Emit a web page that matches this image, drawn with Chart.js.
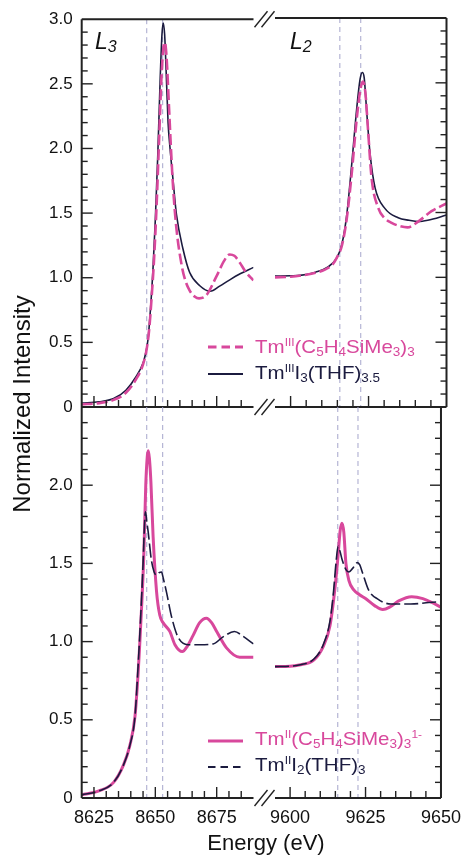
<!DOCTYPE html>
<html>
<head>
<meta charset="utf-8">
<title>Tm L3/L2 XANES</title>
<script src="https://cdn.jsdelivr.net/npm/chart.js@4.4.1/dist/chart.umd.min.js"></script>
<style>
  html, body { margin: 0; padding: 0; background: #fff; }
  #fig { position: relative; width: 470px; height: 858px; overflow: hidden;
         font-family: "Liberation Sans", Arial, Helvetica, sans-serif; color: #111; }
  #fig canvas { position: absolute; left: 0; top: 0; }
  .txt { position: absolute; white-space: nowrap; z-index: 5; }
  .edge { font-size: 23px; line-height: 23px; font-style: italic; }
  .edge .s { font-size: 16px; vertical-align: -3px; line-height: 0; }
  .leg { font-size: 19px; line-height: 18px; left: 255px; transform: scaleX(1.08); transform-origin: 0 50%; }
  .leg .sup { font-size: 11px; vertical-align: 7px; line-height: 0; }
  .leg .sub { font-size: 12.5px; vertical-align: -3px; line-height: 0; }
  .pink { color: #d8489c; }
  .navy { color: #1b1b3f; }
  #ytitle { left: -128px; top: 389px; width: 300px; height: 30px; line-height: 30px;
            font-size: 24px; text-align: center; transform: rotate(-90deg); }
  #xtitle { left: 166px; top: 830px; width: 200px; line-height: 26px; font-size: 22px; text-align: center; }
  #legsvg { position: absolute; left: 0; top: 0; z-index: 4; }
</style>
</head>
<body>
<div id="fig">
  <canvas id="cTL" width="470" height="858"></canvas>
  <canvas id="cTR" width="470" height="858"></canvas>
  <canvas id="cBL" width="470" height="858"></canvas>
  <canvas id="cBR" width="470" height="858"></canvas>

  <div class="txt edge" style="left:95px; top:30px;">L<span class="s">3</span></div>
  <div class="txt edge" style="left:290px; top:30px;">L<span class="s">2</span></div>

  <svg id="legsvg" width="470" height="858">
    <line x1="208" y1="347" x2="243" y2="347" stroke="#d8489c" stroke-width="3" stroke-dasharray="8.5 5"/>
    <line x1="208" y1="374" x2="243" y2="374" stroke="#1b1b3f" stroke-width="2"/>
    <line x1="208" y1="741" x2="243" y2="741" stroke="#d8489c" stroke-width="3"/>
    <line x1="208" y1="767" x2="243" y2="767" stroke="#1b1b3f" stroke-width="2" stroke-dasharray="7.5 5"/>
  </svg>
  <div class="txt leg pink" style="top:338px;">Tm<span class="sup">III</span>(C<span class="sub">5</span>H<span class="sub">4</span>SiMe<span class="sub">3</span>)<span class="sub">3</span></div>
  <div class="txt leg navy" style="top:364px;">Tm<span class="sup">III</span>I<span class="sub">3</span>(THF)<span class="sub">3.5</span></div>
  <div class="txt leg pink" style="top:730px;">Tm<span class="sup">II</span>(C<span class="sub">5</span>H<span class="sub">4</span>SiMe<span class="sub">3</span>)<span class="sub">3</span><span class="sup">1-</span></div>
  <div class="txt leg navy" style="top:756px;">Tm<span class="sup">II</span>I<span class="sub">2</span>(THF)<span class="sub">3</span></div>

  <div class="txt" id="ytitle">Normalized Intensity</div>
  <div class="txt" id="xtitle">Energy (eV)</div>
</div>

<script>
// ---- data ----
// L3 edge, Tm(III) pair (top)
const eL3_TmCp3 = [8620, 8627, 8633, 8638, 8642, 8645, 8646.5, 8647.5, 8648.5, 8649.5, 8650.5, 8651.5, 8652.5, 8653.3, 8653.9, 8654.6, 8655.5, 8656.5, 8657.3, 8658.6, 8660.7, 8662.2, 8664, 8666, 8667.8, 8670.8, 8674.9, 8678, 8680.3, 8682.2, 8684.3, 8687, 8690];
const iL3_TmCp3 = [0.02, 0.03, 0.055, 0.11, 0.21, 0.33, 0.45, 0.6, 0.85, 1.15, 1.55, 2.05, 2.55, 2.78, 2.82, 2.70, 2.35, 1.95, 1.68, 1.38, 1.10, 0.98, 0.90, 0.855, 0.84, 0.865, 1.01, 1.13, 1.18, 1.17, 1.12, 1.04, 0.98];
const eL3_TmI3 = [8620, 8627, 8633, 8638, 8642, 8645, 8646, 8647, 8648, 8649, 8650, 8651, 8652, 8652.7, 8653.2, 8653.8, 8654.5, 8655.2, 8656, 8657.2, 8658.6, 8661.3, 8664, 8668, 8672.4, 8676.2, 8680, 8684, 8690];
const iL3_TmI3 = [0.03, 0.04, 0.065, 0.13, 0.23, 0.34, 0.41, 0.52, 0.75, 1.05, 1.45, 1.95, 2.55, 2.88, 2.97, 2.88, 2.55, 2.2, 2.0, 1.76, 1.49, 1.22, 1.04, 0.94, 0.895, 0.935, 0.98, 1.025, 1.08];

// L2 edge, Tm(III) pair (top)
const eL2_TmCp3 = [9595, 9600, 9605, 9608, 9611, 9613.5, 9615, 9616.4, 9618, 9619.6, 9621.2, 9622.4, 9623.2, 9624, 9624.8, 9626, 9628.2, 9630, 9632.4, 9635, 9637.5, 9640.9, 9645.2, 9650];
const iL2_TmCp3 = [1.0, 1.005, 1.02, 1.035, 1.06, 1.10, 1.16, 1.24, 1.45, 1.80, 2.22, 2.45, 2.51, 2.42, 2.15, 1.76, 1.53, 1.46, 1.42, 1.395, 1.385, 1.43, 1.51, 1.57];
const eL2_TmI3 = [9595, 9600, 9603, 9608, 9612, 9614.8, 9616.4, 9618, 9619.6, 9621.2, 9622.3, 9623, 9623.6, 9624.4, 9625.5, 9627.1, 9630.3, 9634.5, 9638, 9641, 9644, 9650];
const iL2_TmI3 = [1.01, 1.012, 1.015, 1.04, 1.08, 1.15, 1.25, 1.48, 1.87, 2.30, 2.53, 2.58, 2.54, 2.28, 1.95, 1.69, 1.53, 1.46, 1.44, 1.43, 1.44, 1.48];

// L3 edge, Tm(II) pair (bottom)
const eL3_TmIICp3 = [8620, 8627, 8633, 8637, 8639.6, 8641.7, 8643, 8643.7, 8644.5, 8645.3, 8646.1, 8646.7, 8647.1, 8647.6, 8648.2, 8649.1, 8650.5, 8651.8, 8653.2, 8655.9, 8658, 8661, 8663, 8665.4, 8668, 8670.8, 8673, 8675, 8679, 8684.4, 8690];
const iL3_TmIICp3 = [0.02, 0.045, 0.10, 0.21, 0.335, 0.52, 0.80, 1.0, 1.25, 1.55, 2.0, 2.18, 2.22, 2.17, 2.02, 1.67, 1.32, 1.17, 1.12, 1.065, 0.98, 0.936, 0.97, 1.04, 1.12, 1.15, 1.12, 1.065, 0.96, 0.90, 0.90];
const eL3_TmIII2 = [8620, 8627, 8633, 8637, 8639.6, 8641.7, 8643, 8644, 8645, 8645.6, 8646.0, 8646.5, 8647.1, 8648.4, 8649.5, 8650.5, 8651.5, 8652.5, 8653.3, 8654.5, 8656.6, 8659.2, 8663.3, 8668, 8673.5, 8677.6, 8682.2, 8685.7, 8690];
const iL3_TmIII2 = [0.02, 0.045, 0.10, 0.21, 0.335, 0.52, 0.85, 1.15, 1.5, 1.75, 1.83, 1.77, 1.70, 1.52, 1.445, 1.425, 1.44, 1.445, 1.40, 1.32, 1.16, 1.03, 0.98, 0.98, 0.985, 1.03, 1.065, 1.035, 0.985];

// L2 edge, Tm(II) pair (bottom)
const eL2_TmIICp3 = [9595, 9600, 9603, 9608, 9611, 9613.2, 9614.8, 9615.9, 9616.6, 9617.2, 9617.8, 9618.5, 9619.5, 9621.1, 9623, 9625, 9628, 9630.7, 9633, 9636, 9640.3, 9644, 9647, 9650];
const iL2_TmIICp3 = [0.84, 0.842, 0.85, 0.885, 0.97, 1.10, 1.33, 1.55, 1.71, 1.757, 1.70, 1.50, 1.39, 1.33, 1.30, 1.275, 1.23, 1.205, 1.22, 1.26, 1.287, 1.275, 1.25, 1.22];
const eL2_TmIII2 = [9595, 9600, 9603, 9608, 9611, 9613.2, 9614.3, 9615.2, 9615.9, 9616.5, 9617.3, 9618.5, 9619.5, 9620.8, 9622.3, 9623.1, 9624, 9626, 9629.2, 9633.4, 9640, 9646, 9650];
const iL2_TmIII2 = [0.84, 0.843, 0.85, 0.89, 0.98, 1.13, 1.30, 1.50, 1.61, 1.58, 1.52, 1.46, 1.445, 1.47, 1.505, 1.49, 1.44, 1.33, 1.27, 1.24, 1.24, 1.25, 1.255];

// dashed guide energies
const refL3 = [8646.5, 8653.0];
const refL2 = [9615.8, 9622.5];

// tick labels
const xLabelsL3 = [8625, 8650, 8675];
const xLabelsL2 = [9600, 9625, 9650];
const yLabelsTop = [0, 0.5, 1.0, 1.5, 2.0, 2.5, 3.0];
const yLabelsBottom = [0, 0.5, 1.0, 1.5, 2.0];

const FONT = '"Liberation Sans", Arial, Helvetica, sans-serif';
const PINK = '#d8489c';
const NAVY = '#1b1b3f';
const AXIS = '#222222';
const REF = '#a6a6cc';
const Y_AXIS_W = 45;   // room kept for the y tick labels
const X_AXIS_H = 40;   // room kept for the x tick labels

function pts(e, v) {
    return e.map((x, i) => ({ x: x, y: v[i] }));
}

// frame, inward ticks, broken-axis marks, dashed guides
const framePlugin = {
    id: 'frame',
    beforeDatasetsDraw(chart, args, o) {
        const { ctx, chartArea: a } = chart;
        const x = chart.scales.x;
        ctx.save();
        ctx.strokeStyle = REF;
        ctx.lineWidth = 1;
        ctx.setLineDash([5, 4]);
        (o.refs || []).forEach(v => {
            const px = x.getPixelForValue(v);
            ctx.beginPath();
            ctx.moveTo(px, a.top);
            ctx.lineTo(px, a.bottom);
            ctx.stroke();
        });
        ctx.restore();
    },
    afterDraw(chart, args, o) {
        const { ctx, chartArea: a } = chart;
        const x = chart.scales.x, y = chart.scales.y;
        ctx.save();
        ctx.strokeStyle = AXIS;
        ctx.lineCap = 'butt';

        // x ticks on the bottom edge, pointing up
        ctx.lineWidth = 1.4;
        for (let v = Math.ceil(x.min / 5) * 5; v < x.max; v += 5) {
            if (v <= x.min) continue;
            const px = x.getPixelForValue(v);
            const len = v % 25 === 0 ? 11 : 7;
            ctx.beginPath();
            ctx.moveTo(px, a.bottom);
            ctx.lineTo(px, a.bottom - len);
            ctx.stroke();
        }
        // y ticks, pointing inward
        const n = Math.round(y.max / 0.1);
        for (let k = 1; k < n; k++) {
            const py = y.getPixelForValue(k * 0.1);
            const len = k % 5 === 0 ? 11 : 6;
            ctx.beginPath();
            if (o.side === 'left') {
                ctx.moveTo(a.left, py);
                ctx.lineTo(a.left + len, py);
            } else {
                ctx.moveTo(a.right, py);
                ctx.lineTo(a.right - len, py);
            }
            ctx.stroke();
        }

        // frame lines
        ctx.lineWidth = 2;
        ctx.beginPath();
        if (o.top) { ctx.moveTo(a.left, a.top); ctx.lineTo(a.right, a.top); }
        ctx.moveTo(a.left, a.bottom); ctx.lineTo(a.right, a.bottom);
        if (o.side === 'left') { ctx.moveTo(a.left, a.top); ctx.lineTo(a.left, a.bottom); }
        else { ctx.moveTo(a.right, a.top); ctx.lineTo(a.right, a.bottom); }
        ctx.stroke();

        // axis break marks "//"
        ctx.lineWidth = 1.4;
        (o.breaks || []).forEach(edge => {
            const yy = edge === 'top' ? a.top : a.bottom;
            [1, 8].forEach(dx => {
                ctx.beginPath();
                ctx.moveTo(a.right + dx, yy + 8);
                ctx.lineTo(a.right + dx + 13, yy - 8);
                ctx.stroke();
            });
        });
        ctx.restore();
    }
};

function panel(id, o) {
    // shrink the padding by the room the labelled axes take
    const pad = Object.assign({}, o.pad);
    if (o.yLabels) pad.left -= Y_AXIS_W;
    if (o.xLabels) pad.bottom -= X_AXIS_H;
    return new Chart(document.getElementById(id), {
        type: 'line',
        data: { datasets: o.datasets },
        options: {
            responsive: false,
            animation: false,
            events: [],
            layout: { padding: pad },
            plugins: {
                legend: { display: false },
                tooltip: { enabled: false },
                frame: o.frame
            },
            elements: {
                point: { radius: 0 },
                line: { cubicInterpolationMode: 'monotone', borderCapStyle: 'butt' }
            },
            scales: {
                x: {
                    type: 'linear',
                    min: o.xMin,
                    max: o.xMax,
                    display: !!o.xLabels,
                    grid: { display: false, drawTicks: false },
                    border: { display: false },
                    ticks: {
                        autoSkip: false,
                        maxRotation: 0,
                        padding: 9,
                        color: '#111',
                        font: { family: FONT, size: 18 },
                        callback: v => String(v)
                    },
                    afterBuildTicks: s => { if (o.xLabels) s.ticks = o.xLabels.map(v => ({ value: v })); },
                    afterFit: s => { s.height = o.xLabels ? X_AXIS_H : 0; }
                },
                y: {
                    type: 'linear',
                    position: 'left',
                    min: 0,
                    max: o.yMax,
                    display: !!o.yLabels,
                    grid: { display: false, drawTicks: false },
                    border: { display: false },
                    ticks: {
                        padding: 9,
                        color: '#111',
                        font: { family: FONT, size: 17 },
                        callback: v => (v === 0 ? '0' : v.toFixed(1))
                    },
                    afterBuildTicks: s => { if (o.yLabels) s.ticks = o.yLabels.map(v => ({ value: v })); },
                    afterFit: s => { s.width = o.yLabels ? Y_AXIS_W : 0; }
                }
            }
        },
        plugins: [framePlugin]
    });
}

// panel rectangles (left col 81.7-253.5, right col 275-446.5; rows 18-407, 407-798)
const padTL = { left: 81.7, right: 216.5, top: 18, bottom: 451 };
const padTR = { left: 275, right: 23.5, top: 18, bottom: 451 };
const padBL = { left: 81.7, right: 216.5, top: 407, bottom: 60 };
const padBR = { left: 275, right: 23.5, top: 407, bottom: 60 };

const pinkDashed = { borderColor: PINK, borderWidth: 2.6, borderDash: [11, 4] };
const navySolid = { borderColor: NAVY, borderWidth: 1.6 };
const pinkSolid = { borderColor: PINK, borderWidth: 3 };
const navyDashed = { borderColor: NAVY, borderWidth: 1.6, borderDash: [14, 4] };

panel('cTL', {
    pad: padTL, xMin: 8620, xMax: 8690, yMax: 3, yLabels: yLabelsTop,
    frame: { side: 'left', top: true, refs: refL3, breaks: ['top', 'bottom'] },
    datasets: [
        Object.assign({ label: 'TmIII(C5H4SiMe3)3', data: pts(eL3_TmCp3, iL3_TmCp3) }, pinkDashed),
        Object.assign({ label: 'TmIIII3(THF)3.5', data: pts(eL3_TmI3, iL3_TmI3) }, navySolid)
    ]
});
panel('cTR', {
    pad: padTR, xMin: 9595, xMax: 9650, yMax: 3,
    frame: { side: 'right', top: true, refs: refL2 },
    datasets: [
        Object.assign({ label: 'TmIII(C5H4SiMe3)3', data: pts(eL2_TmCp3, iL2_TmCp3) }, pinkDashed),
        Object.assign({ label: 'TmIIII3(THF)3.5', data: pts(eL2_TmI3, iL2_TmI3) }, navySolid)
    ]
});
panel('cBL', {
    pad: padBL, xMin: 8620, xMax: 8690, yMax: 2.5, yLabels: yLabelsBottom, xLabels: xLabelsL3,
    frame: { side: 'left', top: false, refs: refL3, breaks: ['bottom'] },
    datasets: [
        Object.assign({ label: 'TmIII2(THF)3', data: pts(eL3_TmIII2, iL3_TmIII2) }, navyDashed),
        Object.assign({ label: 'TmII(C5H4SiMe3)3 1-', data: pts(eL3_TmIICp3, iL3_TmIICp3) }, pinkSolid)
    ]
});
panel('cBR', {
    pad: padBR, xMin: 9595, xMax: 9650, yMax: 2.5, xLabels: xLabelsL2,
    frame: { side: 'right', top: false, refs: refL2 },
    datasets: [
        Object.assign({ label: 'TmIII2(THF)3', data: pts(eL2_TmIII2, iL2_TmIII2) }, navyDashed),
        Object.assign({ label: 'TmII(C5H4SiMe3)3 1-', data: pts(eL2_TmIICp3, iL2_TmIICp3) }, pinkSolid)
    ]
});
</script>
</body>
</html>
